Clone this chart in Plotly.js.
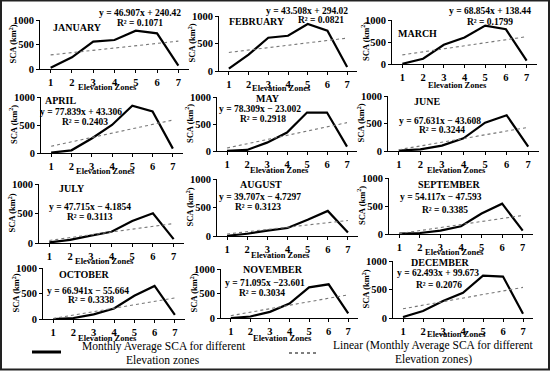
<!DOCTYPE html>
<html><head><meta charset="utf-8">
<script src="https://cdn.plot.ly/plotly-3.0.1.min.js"></script>
<style>html,body{margin:0;padding:0;background:#fff;}#chart{width:550px;height:372px;}</style>
</head><body><div id="chart"></div>
<script>
// ---------- DATA ----------
const zones = [1, 2, 3, 4, 5, 6, 7];
const monthNames = ['JANUARY','FEBRUARY','MARCH','APRIL','MAY','JUNE','JULY','AUGUST','SEPTEMBER','OCTOBER','NOVEMBER','DECEMBER'];
const scaJan = [27, 238, 558, 592, 782, 728, 68];
const scaFeb = [43, 299, 604, 640, 854, 732, 73];
const scaMar = [5, 120, 436, 601, 872, 789, 75];
const scaApr = [6, 48, 259, 500, 843, 741, 78];
const scaMay = [5, 19, 155, 342, 712, 712, 81];
const scaJun = [6, 30, 97, 230, 515, 650, 79];
const scaJul = [10, 52, 125, 190, 372, 505, 66];
const scaAug = [5, 40, 95, 140, 285, 440, 60];
const scaSep = [6, 18, 60, 139, 367, 542, 60];
const scaOct = [0, 19, 92, 205, 455, 648, 80];
const scaNov = [0, 31, 125, 294, 625, 688, 94];
const scaDec = [17, 122, 297, 442, 744, 727, 76];
const slopes = [46.907, 43.508, 68.854, 77.839, 78.309, 67.631, 47.715, 39.707, 54.117, 66.941, 71.095, 62.493];
const intercepts = [240.42, 294.02, 138.44, 43.306, -23.002, -43.608, -4.1854, -4.7297, -47.593, -55.664, -23.601, 99.673];
const eqLabels = ['y = 46.907x + 240.42','y = 43.508x + 294.02','y = 68.854x + 138.44','y = 77.839x + 43.306',
  'y = 78.309x − 23.002','y = 67.631x − 43.608','y = 47.715x − 4.1854','y = 39.707x − 4.7297',
  'y = 54.117x − 47.593','y = 66.941x − 55.664','y = 71.095x −23.601','y = 62.493x + 99.673'];
const r2Labels = ['0.1071','0.0821','0.1799','0.2403','0.2918','0.3244','0.3113','0.3123','0.3385','0.3338','0.3034','0.2076'];
const yTicks = [0, 500, 1000];
const seriesName = 'Monthly Average SCA for different Elevation zones';

// ---------- LAYOUT (pixel geometry) ----------
const W = 550, H = 372;
const allSca = [scaJan, scaFeb, scaMar, scaApr, scaMay, scaJun, scaJul, scaAug, scaSep, scaOct, scaNov, scaDec];
// [x left, x right, y of 1000, y of 0]
const boxes = [
  [40,189,20,69],[219,357,16,71],[392,537,20,64],
  [41,183,97,153],[217,357,97,151],[388,539,96,151],
  [39,184,184,243],[217,358,179,236],[389,533,178,234],
  [43,185,268,319],[221,358,269,318],[393,533,261,318]
];
// [month x,y, eq x,y, r2 x,y, xtitle dy]
const labelPos = [
  [77,27,140,13,140,23,18],[257,22,307,11,321,20,17],[417,33,490,11,490,22,21],
  [60,100,81,112,85,122,18],[268,98,260,109,263,119,19],[427,102,440,121,442,130,19],
  [72,188,90,207,90,217,18],[261,184,260,197,258,207,19],[449,184,441,197,445,210,18],
  [84,274,88,291,91,300,19],[273,269,265,283,262,293,20],[440,262,438,273,439,285,16]
];
const px = x => x / W, py = y => 1 - y / H;
const FF = 'Liberation Serif';
const boldFont = s => ({family: FF, size: s, color: '#000', weight: 'bold'});

const traces = [], annotations = [], shapes = [];
const layout = {
  width: W, height: H, margin: {l:0, r:0, t:0, b:0},
  paper_bgcolor: '#fff', plot_bgcolor: 'rgba(0,0,0,0)', showlegend: false,
  font: {family: FF, color: '#000'}
};

allSca.forEach((vals, i) => {
  const n = i + 1;
  const xa = 'xaxis' + (n === 1 ? '' : n), ya = 'yaxis' + (n === 1 ? '' : n);
  const xr = 'x' + (n === 1 ? '' : n), yr = 'y' + (n === 1 ? '' : n);
  const b = boxes[i];
  layout[xa] = {
    domain: [px(b[0]), px(b[1])], range: [0.5, 7.5], anchor: yr,
    tickvals: zones, ticktext: zones.map(v => '<b>' + v + '</b>'), ticks: 'outside', ticklen: 3, tickwidth: 1,
    tickcolor: '#000', showline: true, linecolor: '#000', linewidth: 1, showgrid: false,
    zeroline: false, tickfont: {family: FF, size: 10.5, color: '#000'}, fixedrange: true
  };
  layout[ya] = {
    domain: [py(b[3]), py(b[2])], range: [0, 1000], anchor: xr,
    tickvals: yTicks, ticktext: yTicks.map(v => '<b>' + v + '</b>'), ticks: 'outside', ticklen: 3, tickwidth: 1, tickcolor: '#000',
    showline: true, linecolor: '#000', linewidth: 1, showgrid: false, zeroline: false,
    tickfont: {family: FF, size: 10.5, color: '#000'}, fixedrange: true
  };
  traces.push({
    x: zones, y: vals, xaxis: xr, yaxis: yr, type: 'scatter', mode: 'lines',
    name: seriesName, line: {color: '#000', width: 2.2}
  });
  const tx = [zones[0], zones[zones.length - 1]];
  traces.push({
    x: tx, y: tx.map(v => slopes[i] * v + intercepts[i]), xaxis: xr, yaxis: yr,
    type: 'scatter', mode: 'lines', name: 'Linear (' + seriesName + ')',
    line: {color: '#777', width: 1.1, dash: 'dot'}
  });
  const L = labelPos[i];
  annotations.push({xref:'paper', yref:'paper', x: px(L[0]), y: py(L[1]), text: '<b>' + monthNames[i] + '</b>',
    showarrow:false, font: {family: FF, size: 10, color:'#000'}, xanchor:'center', yanchor:'middle'});
  annotations.push({xref:'paper', yref:'paper', x: px(L[2]), y: py(L[3]), text: '<b>' + eqLabels[i] + '</b>',
    showarrow:false, font: {family: FF, size: 9.5, color:'#000'}, xanchor:'center', yanchor:'middle'});
  annotations.push({xref:'paper', yref:'paper', x: px(L[4]), y: py(L[5]), text: '<b>R² = ' + r2Labels[i] + '</b>',
    showarrow:false, font: {family: FF, size: 9.5, color:'#000'}, xanchor:'center', yanchor:'middle'});
  const tickMid = b[0] + (b[1] - b[0]) / 2;
  annotations.push({xref:'paper', yref:'paper', x: px(tickMid - 7), y: py(b[3] + L[6]),
    text: '<b>Elevation Zones</b>', showarrow:false, font: {family: FF, size: 8.5, color:'#000'}, xanchor:'center', yanchor:'middle'});
  annotations.push({xref:'paper', yref:'paper', x: px(b[0] - 27), y: py((b[2] + b[3]) / 2),
    text: '<b>SCA (km<sup>2</sup>)</b>', textangle: -90, showarrow:false, font: {family: FF, size: 8.5, color:'#000'},
    xanchor:'center', yanchor:'middle'});
});

// legend
shapes.push({type:'line', xref:'paper', yref:'paper', x0: px(32), x1: px(61), y0: py(352), y1: py(352),
  line:{color:'#000', width:3}});
shapes.push({type:'line', xref:'paper', yref:'paper', x0: px(289), x1: px(316), y0: py(353), y1: py(353),
  line:{color:'#555', width:1.5, dash:'dot'}});
const legFont = {family: FF, size: 11.5, color: '#000'};
annotations.push({xref:'paper', yref:'paper', x: px(164), y: py(346), text:'Monthly Average SCA for different',
  showarrow:false, font: legFont, xanchor:'center', yanchor:'middle'});
annotations.push({xref:'paper', yref:'paper', x: px(163), y: py(360), text:'Elevation zones',
  showarrow:false, font: legFont, xanchor:'center', yanchor:'middle'});
annotations.push({xref:'paper', yref:'paper', x: px(433), y: py(345), text:'Linear (Monthly Average SCA for different',
  showarrow:false, font: legFont, xanchor:'center', yanchor:'middle'});
annotations.push({xref:'paper', yref:'paper', x: px(433), y: py(359), text:'Elevation zones)',
  showarrow:false, font: legFont, xanchor:'center', yanchor:'middle'});
// outer frame
shapes.push({type:'rect', xref:'paper', yref:'paper', x0: px(1), x1: px(549), y0: py(369.5), y1: py(0.5),
  line:{color:'#222', width:2}});

layout.annotations = annotations;
layout.shapes = shapes;
Plotly.newPlot('chart', traces, layout, {staticPlot: true, displayModeBar: false});
</script>
</body></html>
